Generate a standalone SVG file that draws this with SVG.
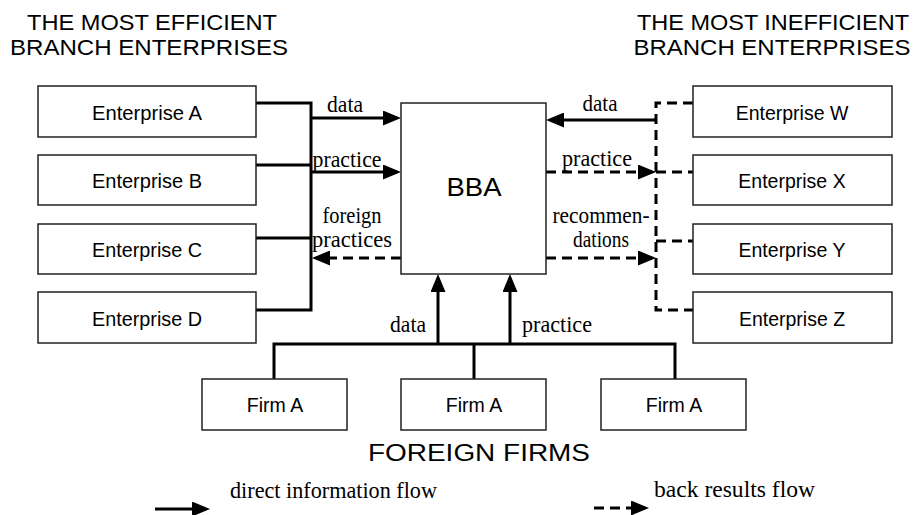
<svg xmlns="http://www.w3.org/2000/svg" width="917" height="515" viewBox="0 0 917 515">
<style>
.box{fill:#fff;stroke:#222;stroke-width:1.5}
.sans{font-family:"Liberation Sans",Arial,sans-serif;fill:#000}
.serif{font-family:"Liberation Serif","Times New Roman",serif;fill:#000;font-size:22.5px;text-anchor:middle}
.ent{font-size:19.5px;text-anchor:middle}
.title{font-size:22.5px;text-anchor:middle}
.ln{fill:none;stroke:#000;stroke-width:3}
.dash{fill:none;stroke:#000;stroke-width:3;stroke-dasharray:10 6}
</style>
<defs>
<marker id="ah" viewBox="0 0 18 15" refX="14" refY="7.5" markerWidth="18" markerHeight="15" markerUnits="userSpaceOnUse" orient="auto">
<path d="M0,0 L18,7.5 L0,15 z" fill="#000"/>
</marker>
</defs>
<rect width="917" height="515" fill="#fff"/>

<g id="titles">
<text class="sans title" x="152" y="30" textLength="250" lengthAdjust="spacingAndGlyphs">THE MOST EFFICIENT</text>
<text class="sans title" x="149" y="55" textLength="278" lengthAdjust="spacingAndGlyphs">BRANCH ENTERPRISES</text>
<text class="sans title" x="773" y="30" textLength="272" lengthAdjust="spacingAndGlyphs">THE MOST INEFFICIENT</text>
<text class="sans title" x="772" y="55" textLength="277" lengthAdjust="spacingAndGlyphs">BRANCH ENTERPRISES</text>
<text class="sans" x="479" y="461" font-size="23" text-anchor="middle" textLength="222" lengthAdjust="spacingAndGlyphs">FOREIGN FIRMS</text>
</g>

<g id="connectors">
<polyline class="ln" points="256,103 311,103 311,310 256,310"/>
<line class="ln" x1="256" y1="165" x2="311" y2="165"/>
<line class="ln" x1="256" y1="238" x2="311" y2="238"/>
<line class="ln" x1="311" y1="118" x2="397" y2="118" marker-end="url(#ah)"/>
<line class="ln" x1="311" y1="172" x2="397" y2="172" marker-end="url(#ah)"/>
<line class="dash" x1="401" y1="258" x2="316" y2="258" marker-end="url(#ah)"/>

<polyline class="dash" points="693,103 656,103 656,310 693,310"/>
<line class="dash" x1="656" y1="172" x2="693" y2="172"/>
<line class="dash" x1="656" y1="241" x2="693" y2="241"/>
<line class="ln" x1="656" y1="120" x2="550" y2="120" marker-end="url(#ah)"/>
<line class="dash" x1="546" y1="172" x2="652" y2="172" marker-end="url(#ah)"/>
<line class="dash" x1="546" y1="258" x2="652" y2="258" marker-end="url(#ah)"/>

<polyline class="ln" points="274,379 274,344 675,344 675,379"/>
<line class="ln" x1="474" y1="344" x2="474" y2="379"/>
<line class="ln" x1="438" y1="345" x2="438" y2="278" marker-end="url(#ah)"/>
<line class="ln" x1="510" y1="345" x2="510" y2="278" marker-end="url(#ah)"/>

<text class="serif" x="345" y="112" textLength="36" lengthAdjust="spacingAndGlyphs">data</text>
<text class="serif" x="347" y="167" textLength="69" lengthAdjust="spacingAndGlyphs">practice</text>
<text class="serif" x="352" y="223" textLength="59" lengthAdjust="spacingAndGlyphs">foreign</text>
<text class="serif" x="352" y="247" textLength="80" lengthAdjust="spacingAndGlyphs">practices</text>
<text class="serif" x="600" y="111" textLength="35" lengthAdjust="spacingAndGlyphs">data</text>
<text class="serif" x="597" y="166" textLength="70" lengthAdjust="spacingAndGlyphs">practice</text>
<text class="serif" x="601" y="223" textLength="97" lengthAdjust="spacingAndGlyphs">recommen-</text>
<text class="serif" x="601" y="247" textLength="56" lengthAdjust="spacingAndGlyphs">dations</text>
<text class="serif" x="408" y="332" textLength="36" lengthAdjust="spacingAndGlyphs">data</text>
<text class="serif" x="557" y="332" textLength="70" lengthAdjust="spacingAndGlyphs">practice</text>
</g>

<g id="bba"><rect class="box" x="401" y="103" width="145" height="171"/><text class="sans" x="474" y="196" font-size="26" text-anchor="middle" textLength="55" lengthAdjust="spacingAndGlyphs">BBA</text></g>

<g id="entA"><rect class="box" x="38" y="86" width="218" height="51"/><text class="sans ent" x="147" y="120" textLength="110" lengthAdjust="spacingAndGlyphs">Enterprise A</text></g>
<g id="entB"><rect class="box" x="38" y="155" width="218" height="50"/><text class="sans ent" x="147" y="188" textLength="110" lengthAdjust="spacingAndGlyphs">Enterprise B</text></g>
<g id="entC"><rect class="box" x="38" y="224" width="218" height="50"/><text class="sans ent" x="147" y="257" textLength="110" lengthAdjust="spacingAndGlyphs">Enterprise C</text></g>
<g id="entD"><rect class="box" x="38" y="292" width="218" height="51"/><text class="sans ent" x="147" y="326" textLength="110" lengthAdjust="spacingAndGlyphs">Enterprise D</text></g>

<g id="entW"><rect class="box" x="693" y="86" width="199" height="51"/><text class="sans ent" x="792" y="120">Enterprise W</text></g>
<g id="entX"><rect class="box" x="693" y="155" width="199" height="50"/><text class="sans ent" x="792" y="188">Enterprise X</text></g>
<g id="entY"><rect class="box" x="693" y="224" width="199" height="50"/><text class="sans ent" x="792" y="257">Enterprise Y</text></g>
<g id="entZ"><rect class="box" x="693" y="292" width="199" height="51"/><text class="sans ent" x="792" y="326">Enterprise Z</text></g>

<g id="firm1"><rect class="box" x="202" y="379" width="145" height="51"/><text class="sans ent" x="275" y="412">Firm A</text></g>
<g id="firm2"><rect class="box" x="401" y="379" width="145" height="51"/><text class="sans ent" x="474" y="412">Firm A</text></g>
<g id="firm3"><rect class="box" x="601" y="379" width="145" height="51"/><text class="sans ent" x="674" y="412">Firm A</text></g>

<g id="legend">
<line class="ln" x1="155" y1="509" x2="206" y2="509" marker-end="url(#ah)"/>
<text class="serif" x="230" y="498" style="text-anchor:start" textLength="207" lengthAdjust="spacingAndGlyphs">direct information flow</text>
<line class="dash" x1="594" y1="508" x2="645" y2="508" marker-end="url(#ah)"/>
<text class="serif" x="654" y="497" style="text-anchor:start" textLength="161" lengthAdjust="spacingAndGlyphs">back results flow</text>
</g>
</svg>
